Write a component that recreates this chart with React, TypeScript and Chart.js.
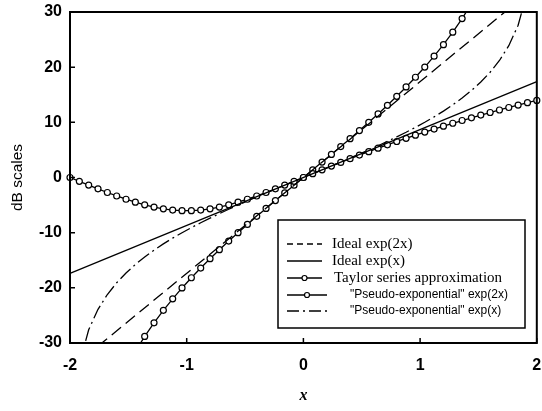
import React, { useEffect, useRef } from 'react';
import { Chart, registerables } from 'chart.js';

Chart.register(...registerables);

// ---- axis ranges & ticks ----
const xTicks = [-2, -1, 0, 1, 2];
const yTicks = [-30, -20, -10, 0, 10, 20, 30];

// ---- series (dB values) ----
const idealX = [-2, 2];
const idealExp2xDb = [-34.74, 34.74];
const idealExpxDb = [-17.37, 17.37];

const taylorX = [
  -2, -1.92, -1.84, -1.76, -1.68, -1.6, -1.52, -1.44, -1.36, -1.28, -1.2, -1.12, -1.04,
  -0.96, -0.88, -0.8, -0.72, -0.64, -0.56, -0.48, -0.4, -0.32, -0.24, -0.16, -0.08, 0,
  0.08, 0.16, 0.24, 0.32, 0.4, 0.48, 0.56, 0.64, 0.72, 0.8, 0.88, 0.96, 1.04, 1.12, 1.2,
  1.28, 1.36, 1.44, 1.52, 1.6, 1.68, 1.76, 1.84, 1.92, 2,
];
const taylorDb = [
  0, -0.69, -1.38, -2.06, -2.72, -3.35, -3.94, -4.48, -4.96, -5.37, -5.68, -5.9, -6.01,
  -6.01, -5.9, -5.68, -5.37, -4.96, -4.48, -3.94, -3.35, -2.72, -2.06, -1.38, -0.69, 0,
  0.69, 1.39, 2.07, 2.74, 3.41, 4.06, 4.69, 5.32, 5.93, 6.53, 7.11, 7.68, 8.24, 8.78, 9.31,
  9.83, 10.33, 10.82, 11.31, 11.78, 12.24, 12.69, 13.13, 13.56, 13.98,
];

const pseudo2xX = [
  -1.52, -1.44, -1.36, -1.28, -1.2, -1.12, -1.04, -0.96, -0.88, -0.8, -0.72, -0.64, -0.56,
  -0.48, -0.4, -0.32, -0.24, -0.16, -0.08, 0, 0.08, 0.16, 0.24, 0.32, 0.4, 0.48, 0.56, 0.64,
  0.72, 0.8, 0.88, 0.96, 1.04, 1.12, 1.2, 1.28, 1.36, 1.44, 1.52,
];
const pseudo2xDb = [
  -34.61, -31.53, -28.81, -26.34, -24.08, -21.99, -20.02, -18.17, -16.41, -14.72, -13.09,
  -11.52, -10.0, -8.5, -7.04, -5.61, -4.19, -2.79, -1.39, 0, 1.39, 2.79, 4.19, 5.61, 7.04,
  8.5, 10.0, 11.52, 13.09, 14.72, 16.41, 18.17, 20.02, 21.99, 24.08, 26.34, 28.81, 31.53, 34.61,
];

const pseudoxX = [
  -1.92, -1.84, -1.76, -1.68, -1.6, -1.52, -1.44, -1.36, -1.28, -1.2, -1.12, -1.04, -0.96,
  -0.88, -0.8, -0.72, -0.64, -0.56, -0.48, -0.4, -0.32, -0.24, -0.16, -0.08, 0, 0.08, 0.16,
  0.24, 0.32, 0.4, 0.48, 0.56, 0.64, 0.72, 0.8, 0.88, 0.96, 1.04, 1.12, 1.2, 1.28, 1.36,
  1.44, 1.52, 1.6, 1.68, 1.76, 1.84, 1.92,
];
const pseudoxDb = [
  -33.8, -27.6, -23.9, -21.21, -19.08, -17.31, -15.77, -14.4, -13.17, -12.04, -10.99, -10.01,
  -9.09, -8.2, -7.36, -6.55, -5.76, -5.0, -4.25, -3.52, -2.8, -2.09, -1.39, -0.7, 0, 0.7,
  1.39, 2.09, 2.8, 3.52, 4.25, 5.0, 5.76, 6.55, 7.36, 8.2, 9.09, 10.01, 10.99, 12.04, 13.17,
  14.4, 15.77, 17.31, 19.08, 21.21, 23.9, 27.6, 33.8,
];

const legendLabels = [
  'Ideal exp(2x)',
  'Ideal exp(x)',
  'Taylor series approximation',
  '"Pseudo-exponential" exp(2x)',
  '"Pseudo-exponential" exp(x)',
];

const DASH_LONG = [12, 6];
const DASH_DOT = [14, 4, 2, 4];

const zip = (xs: number[], ys: number[]) => xs.map((x, i) => ({ x, y: ys[i] }));

const SERIF = '"Liberation Serif", "Times New Roman", serif';
const SANS = '"Liberation Sans", Arial, sans-serif';

const decorPlugin = {
  id: 'decor',
  afterDraw(chart: any) {
    const { ctx, chartArea: a, scales } = chart;
    ctx.save();
    ctx.strokeStyle = '#000';
    ctx.setLineDash([]);
    ctx.lineWidth = 2;
    ctx.strokeRect(a.left, a.top, a.right - a.left, a.bottom - a.top);
    ctx.lineWidth = 1.5;
    ctx.beginPath();
    for (const v of yTicks) {
      const y = scales.y.getPixelForValue(v);
      ctx.moveTo(a.left, y);
      ctx.lineTo(a.left + 5, y);
    }
    for (const v of xTicks) {
      const x = scales.x.getPixelForValue(v);
      ctx.moveTo(x, a.bottom);
      ctx.lineTo(x, a.bottom - 5);
    }
    ctx.stroke();

    // legend box
    const bx = 278, by = 220, bw = 247, bh = 108;
    ctx.fillStyle = '#fff';
    ctx.fillRect(bx, by, bw, bh);
    ctx.lineWidth = 1.5;
    ctx.strokeRect(bx, by, bw, bh);
    const rows = [244, 261, 278, 295, 311];
    const styles = [
      { marker: false, font: `15px ${SERIF}`, tx: 332, x0: 287, x1: 322, sd: [6, 4] },
      { marker: false, font: `15px ${SERIF}`, tx: 332, x0: 287, x1: 322, sd: [] },
      { marker: true, font: `15px ${SERIF}`, tx: 334, x0: 287, x1: 322, sd: [] },
      { marker: true, font: `12px ${SANS}`, tx: 350, x0: 287, x1: 327, sd: [] },
      { marker: false, font: `12px ${SANS}`, tx: 350, x0: 287, x1: 327, sd: [12, 4, 2, 4] },
    ];
    styles.forEach((s, i) => {
      const y = rows[i];
      ctx.setLineDash(s.sd);
      ctx.lineWidth = 1.3;
      ctx.beginPath();
      ctx.moveTo(s.x0, y);
      ctx.lineTo(s.x1, y);
      ctx.stroke();
      ctx.setLineDash([]);
      if (s.marker) {
        ctx.beginPath();
        ctx.arc((s.x0 + s.x1) / 2, y, 2.5, 0, Math.PI * 2);
        ctx.fillStyle = '#fff';
        ctx.fill();
        ctx.lineWidth = 1.2;
        ctx.stroke();
      }
      ctx.fillStyle = '#000';
      ctx.font = s.font;
      ctx.textBaseline = 'middle';
      ctx.textAlign = 'left';
      ctx.fillText(legendLabels[i], s.tx, y);
    });
    ctx.restore();
  },
};

export default function App() {
  const ref = useRef<HTMLCanvasElement | null>(null);
  useEffect(() => {
    document.body.style.margin = '0';
    const canvas = ref.current!;
    const line = { borderColor: '#000', borderWidth: 1.3, pointRadius: 0, showLine: true, fill: false };
    const marked = {
      borderColor: '#000',
      borderWidth: 1.3,
      showLine: true,
      pointRadius: 3,
      pointBackgroundColor: '#fff',
      pointBorderColor: '#000',
      pointBorderWidth: 1.2,
    };
    const chart = new Chart(canvas, {
      type: 'scatter',
      data: {
        datasets: [
          { ...line, label: legendLabels[0], data: zip(idealX, idealExp2xDb), borderDash: DASH_LONG, clip: 1 },
          { ...line, label: legendLabels[1], data: zip(idealX, idealExpxDb), clip: 1 },
          { ...marked, label: legendLabels[2], data: zip(taylorX, taylorDb), clip: 5 },
          { ...marked, label: legendLabels[3], data: zip(pseudo2xX, pseudo2xDb), clip: 1 },
          { ...line, label: legendLabels[4], data: zip(pseudoxX, pseudoxDb), borderDash: DASH_DOT, clip: 1 },
        ] as any,
      },
      options: {
        animation: false,
        responsive: false,
        layout: { padding: { top: 12, right: 3, left: 0, bottom: 0 } },
        plugins: { legend: { display: false }, tooltip: { enabled: false } },
        scales: {
          x: {
            type: 'linear',
            min: -2,
            max: 2,
            grid: { display: false, drawTicks: false },
            border: { display: false },
            ticks: {
              stepSize: 1,
              color: '#000',
              padding: 13,
              font: { family: SANS, size: 16, weight: 'bold' },
            },
            title: {
              display: true,
              text: 'x',
              color: '#000',
              font: { family: SERIF, size: 16, weight: 'bold', style: 'italic' },
              padding: { top: 4, bottom: 6 },
            },
            afterFit(scale: any) {
              scale.height = 68;
              scale.paddingLeft = 0;
              scale.paddingRight = 0;
            },
          },
          y: {
            type: 'linear',
            min: -30,
            max: 30,
            grid: { display: false, drawTicks: false },
            border: { display: false },
            ticks: {
              stepSize: 10,
              color: '#000',
              padding: 8,
              font: { family: SANS, size: 16, weight: 'bold' },
            },
            title: {
              display: true,
              text: 'dB scales',
              color: '#000',
              font: { family: SANS, size: 15.5 },
              padding: { top: 8, bottom: 4 },
            },
            afterFit(scale: any) {
              scale.width = 70;
              scale.paddingTop = 0;
              scale.paddingBottom = 0;
            },
          },
        },
      },
      plugins: [decorPlugin],
    } as any);
    return () => chart.destroy();
  }, []);
  return (
    <div style={{ position: 'absolute', left: 0, top: 0 }}>
      <canvas ref={ref} width={542} height={411} style={{ display: 'block' }} />
    </div>
  );
}
